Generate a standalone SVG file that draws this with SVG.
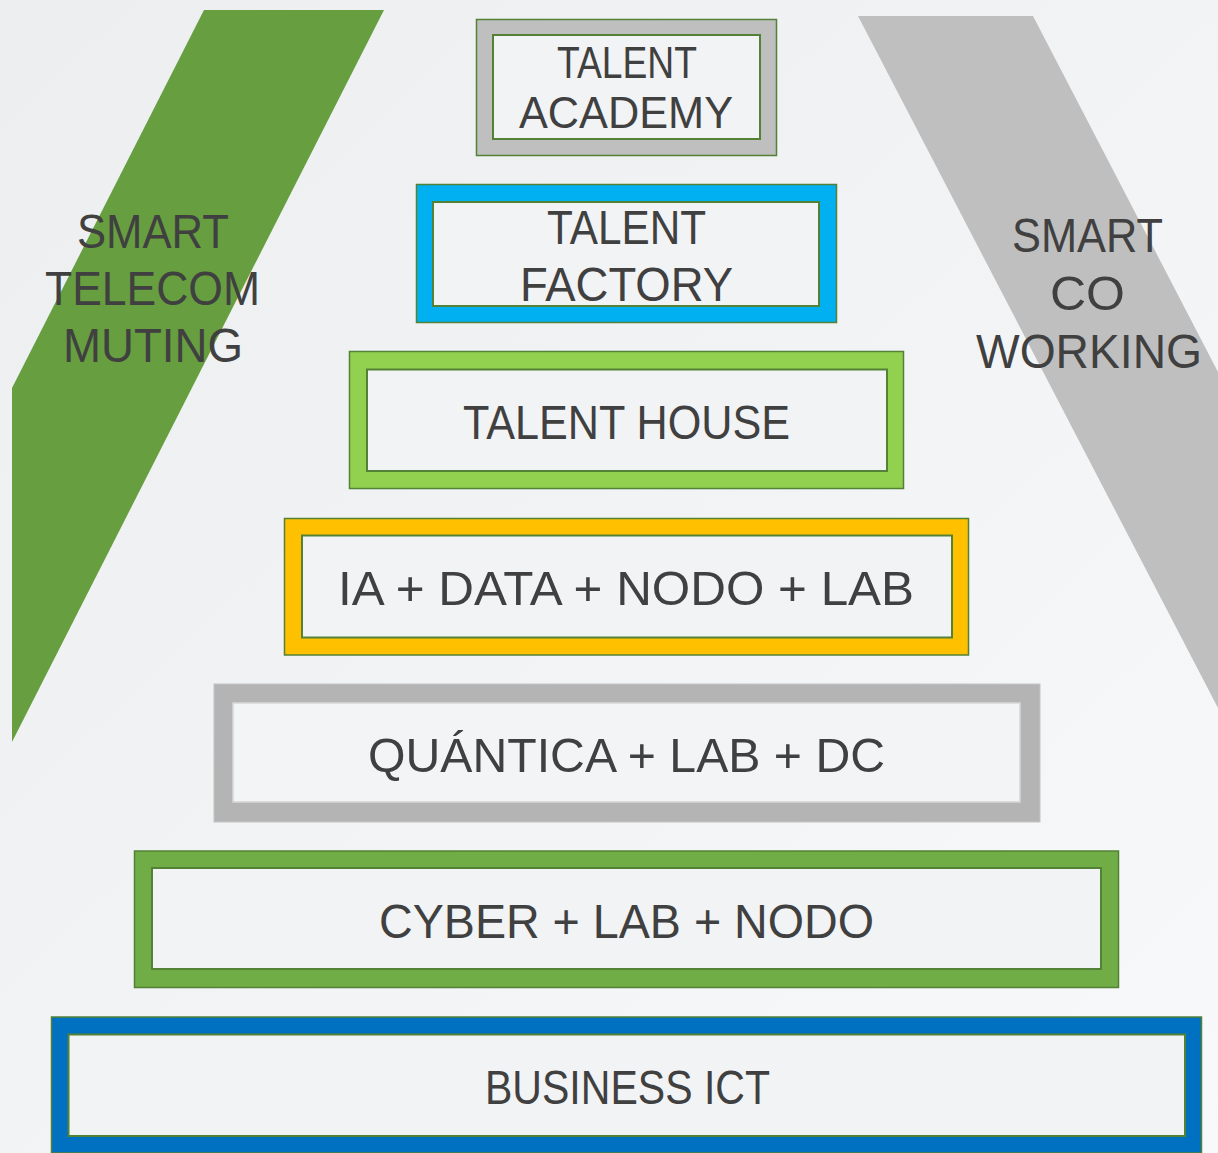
<svg xmlns="http://www.w3.org/2000/svg" width="1218" height="1153" viewBox="0 0 1218 1153">
  <defs>
    <linearGradient id="bg" x1="0" y1="0" x2="1" y2="1">
      <stop offset="0" stop-color="#eceef0"/>
      <stop offset="0.5" stop-color="#f2f3f5"/>
      <stop offset="1" stop-color="#f8f9fa"/>
    </linearGradient>
  </defs>
  <style>
    .lbl { font-family: "Liberation Sans", Arial, sans-serif; font-size: 48px; fill: #404040; }
    .sm { font-size: 44px; }
    .outer { stroke: #538135; stroke-width: 1.5; }
    .inner { fill: #f2f3f5; stroke: #538135; stroke-width: 2; }
  </style>
  <rect x="0" y="0" width="1218" height="1153" fill="url(#bg)"/>

  <g id="band-left">
    <polygon points="204,10 384,10 12,742 12,388" fill="#669e40"/>
    <text class="lbl" x="77" y="248" textLength="152" lengthAdjust="spacingAndGlyphs">SMART</text>
    <text class="lbl" x="45" y="305" textLength="215" lengthAdjust="spacingAndGlyphs">TELECOM</text>
    <text class="lbl" x="63" y="362" textLength="180" lengthAdjust="spacingAndGlyphs">MUTING</text>
  </g>

  <g id="band-right">
    <polygon points="858,16 1033,16 1218,372 1218,708" fill="#bfbfbf"/>
    <text class="lbl" x="1012" y="252" textLength="151" lengthAdjust="spacingAndGlyphs">SMART</text>
    <text class="lbl" x="1050" y="310" textLength="75" lengthAdjust="spacingAndGlyphs">CO</text>
    <text class="lbl" x="976" y="368" textLength="226" lengthAdjust="spacingAndGlyphs">WORKING</text>
  </g>

  <g id="connectors"></g>

  <g id="talent-academy">
    <rect class="outer" x="476.5" y="19.5" width="300" height="136" fill="#bfbfbf"/>
    <rect class="inner" x="493" y="35" width="267" height="104"/>
    <text class="lbl sm" x="557" y="78" textLength="140" lengthAdjust="spacingAndGlyphs">TALENT</text>
    <text class="lbl sm" x="519" y="128" textLength="214" lengthAdjust="spacingAndGlyphs">ACADEMY</text>
  </g>

  <g id="talent-factory">
    <rect class="outer" x="416.5" y="184.5" width="420" height="138" fill="#00b0f0"/>
    <rect class="inner" x="433" y="202" width="386" height="104"/>
    <text class="lbl" x="547" y="244" textLength="159" lengthAdjust="spacingAndGlyphs">TALENT</text>
    <text class="lbl" x="520" y="301" textLength="213" lengthAdjust="spacingAndGlyphs">FACTORY</text>
  </g>

  <g id="talent-house">
    <rect class="outer" x="349.5" y="351.5" width="554" height="137" fill="#92d050" stroke="#4e7a2e" stroke-width="2"/>
    <rect class="inner" x="367" y="369.5" width="520" height="101.5" stroke="#4e7a2e"/>
    <text class="lbl" x="463" y="439" textLength="327" lengthAdjust="spacingAndGlyphs">TALENT HOUSE</text>
  </g>

  <g id="ia-data">
    <rect class="outer" x="284.5" y="518.5" width="684" height="136.5" fill="#ffc000"/>
    <rect class="inner" x="302" y="535.5" width="650" height="102"/>
    <text class="lbl" x="338" y="604.5" textLength="576" lengthAdjust="spacingAndGlyphs">IA + DATA + NODO + LAB</text>
  </g>

  <g id="quantica">
    <rect x="214" y="684" width="826" height="138" fill="#b4b4b4" stroke="#c4c4c4" stroke-width="1"/>
    <rect x="233" y="703" width="787" height="99" fill="#f3f4f6" stroke="#d6d6d6" stroke-width="1.5"/>
    <text class="lbl" x="368" y="772" textLength="517" lengthAdjust="spacingAndGlyphs">QUÁNTICA + LAB + DC</text>
  </g>

  <g id="cyber">
    <rect class="outer" x="134.5" y="851" width="984" height="136.5" fill="#70ad47" stroke="#4e7a2e" stroke-width="2"/>
    <rect class="inner" x="152" y="868" width="949" height="101" stroke="#4e7a2e"/>
    <text class="lbl" x="379" y="938" textLength="495" lengthAdjust="spacingAndGlyphs">CYBER + LAB + NODO</text>
  </g>

  <g id="business-ict">
    <rect class="outer" x="51.5" y="1017" width="1150" height="136" fill="#0070c0"/>
    <rect class="inner" x="68.5" y="1034.5" width="1116.5" height="101.5" fill="#fdfdfd"/>
    <text class="lbl" x="485" y="1104" textLength="285" lengthAdjust="spacingAndGlyphs">BUSINESS ICT</text>
  </g>
</svg>
